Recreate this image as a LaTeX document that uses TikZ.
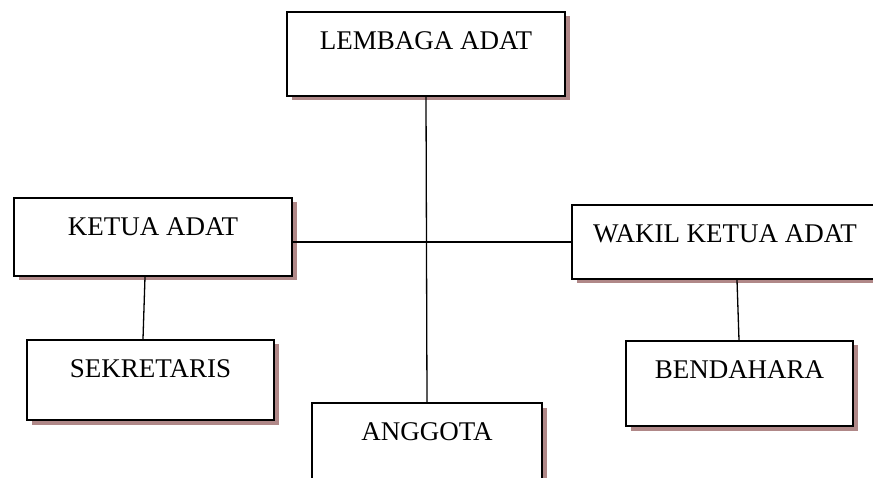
\documentclass[tikz,border=0pt]{standalone}
\usepackage{fontspec}
\setmainfont{Liberation Serif}
\usetikzlibrary{shadows}
\definecolor{shadowc}{RGB}{176,136,136}
\begin{document}
\begin{tikzpicture}[x=1pt,y=1pt,
  orgbox/.style={draw=black, line width=2pt, fill=white, rectangle, inner sep=0pt,
    drop shadow={shadow xshift=4.5pt, shadow yshift=-4.5pt, fill=shadowc, opacity=1}},
  boxlabel/.style={anchor=north, inner sep=0pt, yshift=-20pt, font=\fontsize{27}{32}\selectfont},
  conn/.style={line width=1.3pt, black}]
\useasboundingbox (0,0) rectangle (873,477);
\clip (0,0) rectangle (873,477);
% y_tikz = 477 - y_image
\node[orgbox, minimum width=278pt, minimum height=84pt,
  label={[boxlabel]north:LEMBAGA ADAT}] (lembaga) at (426,423) {};
\node[orgbox, minimum width=278pt, minimum height=78pt,
  label={[boxlabel]north:KETUA ADAT}] (ketua) at (153,240) {};
\node[orgbox, minimum width=306pt, minimum height=74pt,
  label={[boxlabel]north:WAKIL KETUA ADAT}] (wakil) at (725,235) {};
\node[orgbox, minimum width=247pt, minimum height=80pt,
  label={[boxlabel]north:SEKRETARIS}] (sekretaris) at (150.5,97) {};
\node[orgbox, minimum width=227pt, minimum height=85pt,
  label={[boxlabel]north:BENDAHARA}] (bendahara) at (739.5,93.5) {};
\node[orgbox, minimum width=230pt, minimum height=84pt,
  label={[boxlabel]north:ANGGOTA}] (anggota) at (427,32) {};
% connectors
\draw[conn] (lembaga.south) -- (anggota.north);
\draw[conn] (ketua.east |- wakil.west) -- (wakil.west);
\draw[conn] ([xshift=-8pt]ketua.south) -- ([xshift=-7.5pt]sekretaris.north);
\draw[conn] ([xshift=12pt]wakil.south) -- ([xshift=-0.5pt]bendahara.north);
\end{tikzpicture}
\end{document}
